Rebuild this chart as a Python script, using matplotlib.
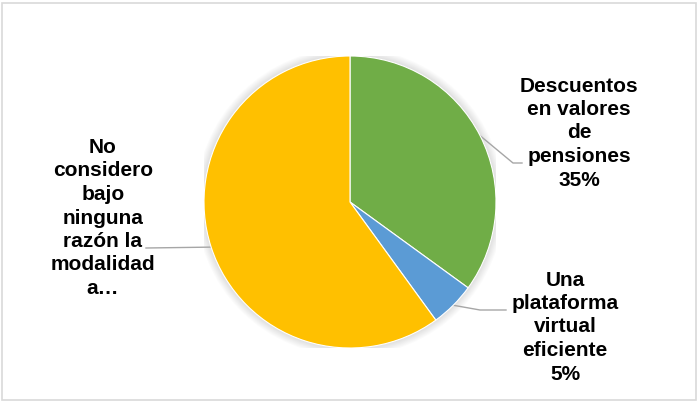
import matplotlib
matplotlib.use("Agg")
import matplotlib.pyplot as plt
import numpy as np
from matplotlib.patches import Rectangle, Circle

categories = ["Descuentos en valores de pensiones",
              "Una plataforma virtual eficiente",
              "No considero bajo ninguna razón la modalidad a…"]
values = [35, 5, 60]
label_texts = ["Descuentos\nen valores\nde\npensiones\n35%",
               "Una\nplataforma\nvirtual\neficiente\n5%",
               "No\nconsidero\nbajo\nninguna\nrazón la\nmodalidad\na…"]
colors = ["#70AD47", "#5B9BD5", "#FFC000"]

W, H = 697, 401
fig = plt.figure(figsize=(W / 100, H / 100), dpi=100)
fig.patch.set_facecolor("white")
fig.patches.append(Rectangle((1.5 / W, 1.5 / H), (W - 3) / W, (H - 4) / H,
                             transform=fig.transFigure, fill=False,
                             edgecolor="#d9d9d9", linewidth=1.2))

cx, cy, r = 350, 202, 146
ax = fig.add_axes([(cx - r) / W, (H - cy - r) / H, 2 * r / W, 2 * r / H])

# soft shadow glow
for i in range(8):
    ax.add_patch(Circle((0, 0.0), 1.0 + 0.007 * (i + 1), color="black",
                        alpha=0.016, lw=0, zorder=0))

wedges, _ = ax.pie(values, colors=colors, startangle=90, counterclock=False,
                   radius=1.0, wedgeprops=dict(edgecolor="white", linewidth=0.8))
for w in wedges:
    w.set_zorder(2)
    w.set_clip_on(False)
ax.set_xlim(-1, 1)
ax.set_ylim(-1, 1)
ax.set_aspect("equal")
ax.axis("off")

def px(x, y):
    return (x - cx) / r, (cy - y) / r

font = dict(family=["Liberation Sans", "DejaVu Sans"], fontsize=15,
            fontweight="bold", color="#000000", linespacing=1.3)

# label positions (pixel centres) and leader elbows
label_pos = [(579, 133), (565, 327), (103, 218)]
leader_ends = [[(513, 163), (522, 163)], [(480, 310), (506, 310)],
               [(146, 248)]]

start = 90
for i, (v, w) in enumerate(zip(values, wedges)):
    mid = np.deg2rad(start - v * 3.6 / 2)
    start -= v * 3.6
    ex, ey = np.cos(mid), np.sin(mid)
    xs = [ex] + [px(*p)[0] for p in leader_ends[i]]
    ys = [ey] + [px(*p)[1] for p in leader_ends[i]]
    ax.plot(xs, ys, color="#a6a6a6", lw=1.0, zorder=1, clip_on=False)
    lx, ly = px(*label_pos[i])
    ax.text(lx, ly, label_texts[i], ha="center", va="center",
            multialignment="center", clip_on=False, **font)

fig.savefig("out.png", dpi=100)
